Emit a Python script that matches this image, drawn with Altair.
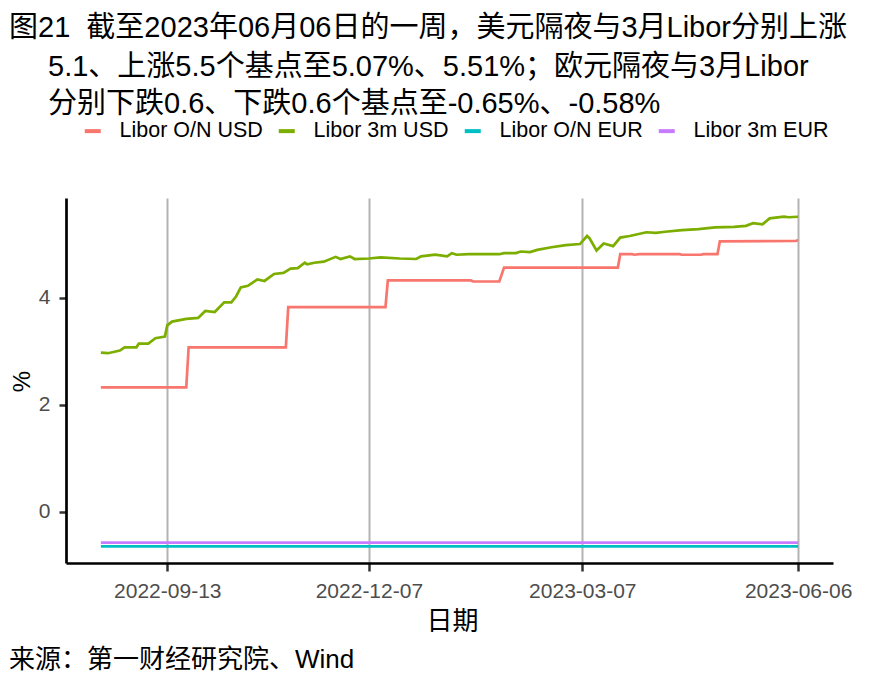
import altair as alt
import pandas as pd

FONT = "Liberation Sans, Noto Sans CJK SC"

series_names = ["Libor O/N USD", "Libor 3m USD", "Libor O/N EUR", "Libor 3m EUR"]
series_colors = ["#F8766D", "#7CAE00", "#00BFC4", "#C77CFF"]

# Libor O/N USD (step series)
on_usd_dates = ["2022-08-16", "2022-09-21", "2022-09-22", "2022-11-02", "2022-11-03",
                "2022-12-14", "2022-12-15", "2023-01-19", "2023-01-20", "2023-01-31",
                "2023-02-02", "2023-03-22", "2023-03-23", "2023-03-28", "2023-03-29",
                "2023-03-31", "2023-04-17", "2023-04-18", "2023-04-26", "2023-04-27",
                "2023-05-03", "2023-05-04", "2023-06-05", "2023-06-06"]
on_usd_values = [2.32, 2.32, 3.07, 3.07, 3.82,
                 3.82, 4.32, 4.32, 4.30, 4.30,
                 4.56, 4.56, 4.81, 4.81, 4.80,
                 4.81, 4.81, 4.80, 4.80, 4.81,
                 4.81, 5.05, 5.06, 5.07]

# Libor 3m USD
m3_usd_dates = ["2022-08-16", "2022-08-19", "2022-08-24", "2022-08-26", "2022-08-31",
                "2022-09-01", "2022-09-05", "2022-09-08", "2022-09-12", "2022-09-13",
                "2022-09-15", "2022-09-21", "2022-09-26", "2022-09-29", "2022-10-03",
                "2022-10-07", "2022-10-10", "2022-10-12", "2022-10-14", "2022-10-17",
                "2022-10-21", "2022-10-24", "2022-10-28", "2022-11-01", "2022-11-04",
                "2022-11-07", "2022-11-10", "2022-11-11", "2022-11-14", "2022-11-18",
                "2022-11-23", "2022-11-25", "2022-11-29", "2022-12-01", "2022-12-07",
                "2022-12-12", "2022-12-20", "2022-12-27", "2022-12-29", "2023-01-04",
                "2023-01-09", "2023-01-11", "2023-01-13", "2023-01-18", "2023-01-31",
                "2023-02-02", "2023-02-07", "2023-02-09", "2023-02-13", "2023-02-16",
                "2023-02-22", "2023-02-28", "2023-03-06", "2023-03-09", "2023-03-10",
                "2023-03-13", "2023-03-16", "2023-03-20", "2023-03-23", "2023-03-27",
                "2023-04-03", "2023-04-07", "2023-04-11", "2023-04-18", "2023-04-25",
                "2023-05-02", "2023-05-10", "2023-05-15", "2023-05-18", "2023-05-22",
                "2023-05-25", "2023-05-31", "2023-06-02", "2023-06-06"]
m3_usd_values = [2.97, 2.96, 3.01, 3.07, 3.07,
                 3.14, 3.14, 3.24, 3.27, 3.48,
                 3.55, 3.60, 3.62, 3.75, 3.73,
                 3.91, 3.91, 4.02, 4.19, 4.22,
                 4.34, 4.31, 4.44, 4.46, 4.54,
                 4.55, 4.65, 4.62, 4.65, 4.67,
                 4.76, 4.72, 4.77, 4.72, 4.73,
                 4.75, 4.73, 4.72, 4.77, 4.80,
                 4.77, 4.83, 4.80, 4.81, 4.81,
                 4.83, 4.83, 4.86, 4.85, 4.89,
                 4.94, 4.98, 5.00, 5.15, 5.11,
                 4.88, 5.01, 4.96, 5.12, 5.15,
                 5.22, 5.21, 5.23, 5.26, 5.28,
                 5.31, 5.32, 5.34, 5.39, 5.37,
                 5.48, 5.51, 5.50, 5.51]

# EUR (flat)
on_eur_dates = ["2022-08-16", "2023-06-06"]
on_eur_values = [-0.65, -0.65]
m3_eur_dates = ["2022-08-16", "2023-06-06"]
m3_eur_values = [-0.58, -0.58]

x_tick_dates = [(2022, 9, 13), (2022, 12, 7), (2023, 3, 7), (2023, 6, 6)]
y_tick_values = [0, 2, 4]

title_lines = [
    "图21\u00a0\u00a0截至2023年06月06日的一周，美元隔夜与3月Libor分别上涨",
    "5.1、上涨5.5个基点至5.07%、5.51%；欧元隔夜与3月Libor",
    "分别下跌0.6、下跌0.6个基点至-0.65%、-0.58%",
]
caption_text = "来源：第一财经研究院、Wind"

frames = []
for name, d, v in [(series_names[0], on_usd_dates, on_usd_values),
                   (series_names[1], m3_usd_dates, m3_usd_values),
                   (series_names[2], on_eur_dates, on_eur_values),
                   (series_names[3], m3_eur_dates, m3_eur_values)]:
    frames.append(pd.DataFrame({"series": name, "date": d, "value": v}))
df = pd.concat(frames, ignore_index=True)

x_scale = alt.Scale(type="utc", domain=[
    alt.DateTime(year=2022, month=8, date=1, hours=7, utc=True),
    alt.DateTime(year=2023, month=6, date=20, hours=17, utc=True)])

x_axis = alt.Axis(
    values=[alt.DateTime(year=y, month=m, date=d, utc=True) for (y, m, d) in x_tick_dates],
    format="%Y-%m-%d", labelFontSize=21, labelFont=FONT, labelColor="#4d4d4d",
    labelPadding=9, labelFlush=False, labelOverlap=False,
    tickColor="#333333", tickSize=8, tickWidth=2.5,
    domainColor="black", domainWidth=2.7,
    grid=True, gridColor="#b3b3b3", gridWidth=2,
    title="日期", titleFont=FONT, titleFontSize=26, titleFontWeight="normal",
    titleColor="black", titleX=386, titleY=58, titleAlign="center", titleBaseline="middle")

y_axis = alt.Axis(
    values=y_tick_values, labelFontSize=21, labelFont=FONT, labelColor="#4d4d4d",
    labelPadding=9, tickColor="#333333", tickSize=7, tickWidth=2.5,
    domainColor="black", domainWidth=2.7, grid=False,
    title="%", titleFont=FONT, titleFontSize=24, titleFontWeight="normal",
    titleColor="black", titleX=-44, titleY=183, titleAngle=270,
    titleAlign="center", titleBaseline="middle")

lines = alt.Chart(df).mark_line(strokeWidth=2.7).encode(
    x=alt.X("date:T", scale=x_scale, axis=x_axis),
    y=alt.Y("value:Q", scale=alt.Scale(domain=[-0.96, 5.86], nice=False, zero=False), axis=y_axis),
    color=alt.Color("series:N", scale=alt.Scale(domain=series_names, range=series_colors),
                    legend=alt.Legend(orient="none", legendX=16, legendY=-78,
                                      direction="horizontal", title=None,
                                      symbolType="stroke", symbolSize=256,
                                      symbolStrokeWidth=4, labelFontSize=21.5,
                                      labelFont=FONT, labelColor="black",
                                      labelOffset=16, columnPadding=7, labelLimit=400)),
)


def text_layer(s, x, y, size):
    return alt.Chart(pd.DataFrame({"t": [s]})).mark_text(
        align="left", baseline="middle", fontSize=size, font=FONT, color="black"
    ).encode(x=alt.value(x), y=alt.value(y), text="t:N")


t1 = text_layer(title_lines[0], -57, -170, 29)
t2 = text_layer(title_lines[1], -18, -131, 29)
t3 = text_layer(title_lines[2], -18, -94, 29)
cap = text_layer(caption_text, -57, 462, 26)

chart = alt.layer(lines, t1, t2, t3, cap).properties(
    width=767, height=365,
    autosize=alt.AutoSizeParams(type="none"),
    padding={"left": 58, "top": 190, "right": 44, "bottom": 117},
).configure_view(stroke=None)

chart.save("out.html", embed_options={"renderer": "svg", "actions": False})
